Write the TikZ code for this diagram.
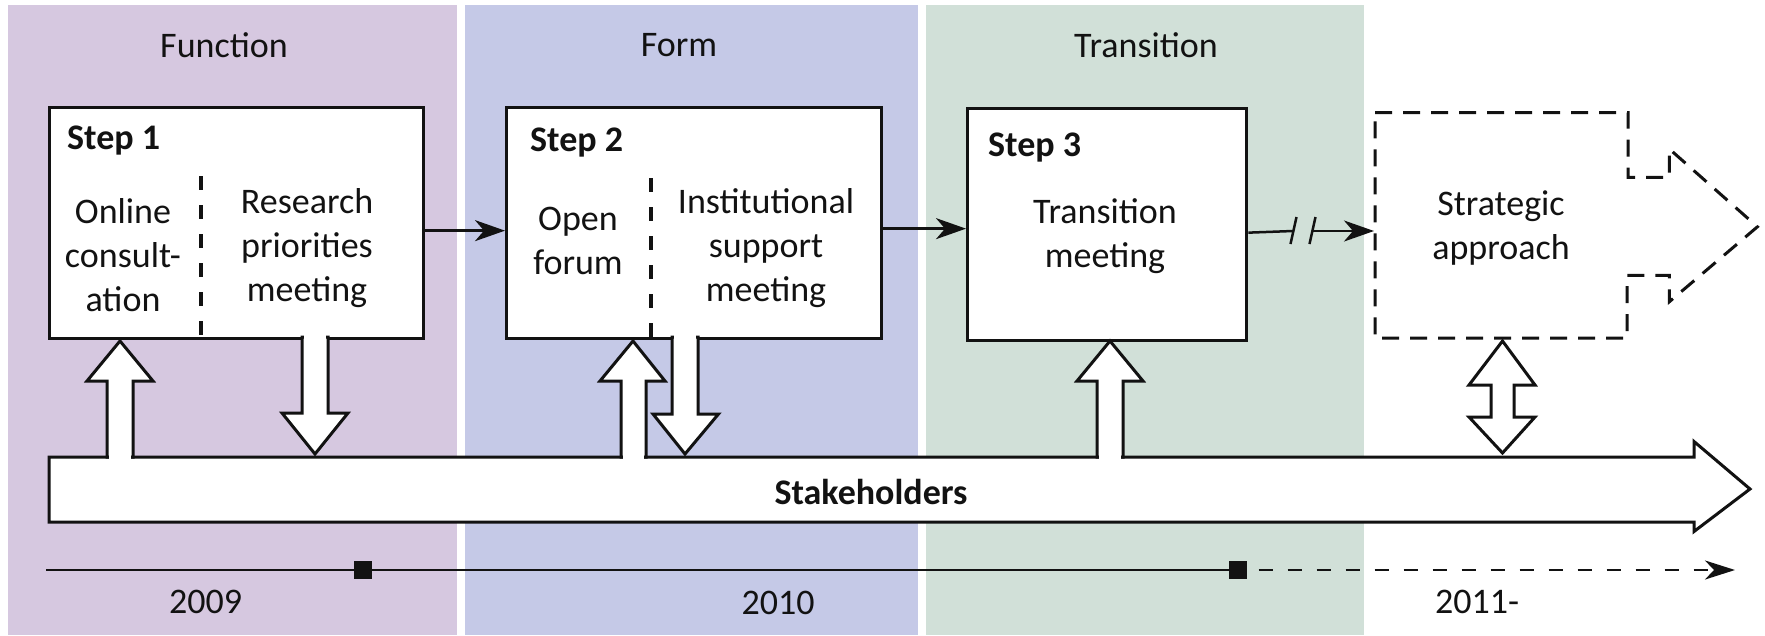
\documentclass[tikz,border=0pt]{standalone}
\usepackage{fontspec}
\setmainfont{Carlito}
\usetikzlibrary{arrows.meta}
\definecolor{bandpurple}{RGB}{214,200,224}
\definecolor{bandblue}{RGB}{197,201,231}
\definecolor{bandgreen}{RGB}{209,224,216}
\definecolor{inkc}{RGB}{18,18,18}
\begin{document}
\begin{tikzpicture}[x=1pt,y=-1pt,
  font=\fontsize{36}{44}\selectfont,
  lbl/.style={text=inkc, align=center, inner sep=0pt},
  steplbl/.style={text=inkc, inner sep=0pt, anchor=base west, font=\fontsize{36}{44}\selectfont\bfseries},
  stepbox/.style={draw=inkc, fill=white, line width=3.3pt, anchor=north west, inner sep=0pt},
  divider/.style={draw=inkc, line width=3.6pt, dash pattern=on 14pt off 15pt},
  conn/.style={draw=inkc, line width=2.5pt, -{Stealth[length=30pt,width=21pt,inset=9pt]}},
  plainline/.style={draw=inkc, line width=2.5pt},
  blk/.style={draw=inkc, fill=white, line width=3pt, line join=miter},
  tl/.style={draw=inkc, line width=2.2pt},
  tlsq/.style={fill=inkc, draw=none, minimum width=18pt, minimum height=18pt, inner sep=0pt},
  dashshape/.style={draw=inkc, line width=3pt, dash pattern=on 17pt off 11pt, line join=miter}
]
\useasboundingbox (0,0) rectangle (1765,635);
\fill[white] (0,0) rectangle (1765,635);
% bands
\fill[bandpurple] (8,5) rectangle (457,635);
\fill[bandblue] (465,5) rectangle (918,635);
\fill[bandgreen] (926,5) rectangle (1364,635);
\node[lbl] (hfun) at (224,45) {Function};
\node[lbl] (hform) at (679,45) {Form};
\node[lbl] (htrans) at (1146,45) {Transition};

% stakeholders arrow
\filldraw[blk] (49,457) -- (1694,457) -- (1694,441.5) -- (1750,489) -- (1694,531.5) -- (1694,522) -- (49,522) -- cycle;
\node[lbl, font=\fontsize{36}{44}\selectfont\bfseries] (stk) at (871,492) {Stakeholders};

% step boxes
\node[stepbox, minimum width=374pt, minimum height=231pt] (s1) at (48,106) {};
\node[stepbox, minimum width=375pt, minimum height=231pt] (s2) at (505,106) {};
\node[stepbox, minimum width=279pt, minimum height=232pt] (s3) at (966,107) {};

\node[steplbl] (s1l) at (67,149) {Step 1};
\node[steplbl] (s2l) at (530,151) {Step 2};
\node[steplbl] (s3l) at (988,156) {Step 3};

\draw[divider] (201,176) -- (201,337);
\draw[divider] (651,178) -- (651,337);

\node[lbl] (oc) at (123,255) {Online\\consult-\\ation};
\node[lbl] (rp) at (307,248) {Research\\priorities\\meeting};
\node[lbl] (of) at (578,241) {Open\\forum};
\node[lbl] (is) at (766,248) {Institutional\\support\\meeting};
\node[lbl] (tm) at (1105,236) {Transition\\meeting};

% strategic approach (dashed)
\draw[dashshape] (1375,112.6) -- (1628,112.6) -- (1628,177.4) -- (1669.4,177.4) -- (1669.4,149)
  -- (1757.4,226.8) -- (1669.4,301.7) -- (1669.4,275.4) -- (1627,275.4) -- (1627,338.2)
  -- (1375,338.2) -- cycle;
\node[lbl] (sa) at (1501,228) {Strategic\\approach};
\coordinate (saw) at (1374,231);

% connectors
\draw[conn] ([yshift=-7.5pt]s1.east) -- ([yshift=-7.5pt]s1.east -| s2.west);
\draw[conn] ([yshift=-5.5pt]s2.east) -- ([yshift=-5.5pt]s2.east -| s3.west);
\coordinate (brk1) at (1293,231);
\coordinate (brk2) at (1312.5,231);
\draw[plainline] ([yshift=-8pt]s3.east) -- (brk1);
\draw[plainline] (1296.5,217) -- (1290.5,244);
\draw[plainline] (1315.5,217) -- (1309.5,244);
\draw[conn] (brk2) -- (saw);

% block arrows
% up arrow 1
\filldraw[blk] (120,341) -- (153,381) -- (133,381) -- (133,457) -- (107,457) -- (107,381) -- (87,381) -- cycle;
\fill[white] (108.6,451) rectangle (131.4,461);
% down arrow 1
\filldraw[blk] (302,337) -- (328,337) -- (328,413) -- (348,413) -- (315,454) -- (282,413) -- (302,413) -- cycle;
\fill[white] (303.6,333) rectangle (326.4,341);
% up arrow 2
\filldraw[blk] (633,341) -- (665,381) -- (646,381) -- (646,457) -- (621,457) -- (621,381) -- (600,381) -- cycle;
\fill[white] (622.6,451) rectangle (644.4,461);
% down arrow 2
\filldraw[blk] (672,337) -- (698,337) -- (698,414) -- (718.5,414) -- (685,454) -- (653,414) -- (672,414) -- cycle;
\fill[white] (673.6,333) rectangle (696.4,341);
% up arrow 3
\filldraw[blk] (1110,341) -- (1143,381) -- (1123,381) -- (1123,457) -- (1097,457) -- (1097,381) -- (1077,381) -- cycle;
\fill[white] (1098.6,451) rectangle (1121.4,461);
% double arrow
\filldraw[blk] (1502.5,341) -- (1535,385) -- (1514,385) -- (1514,417) -- (1535,417) -- (1502.5,453)
  -- (1469,417) -- (1491,417) -- (1491,385) -- (1469,385) -- cycle;

% timeline
\node[tlsq] (q1) at (363,570) {};
\node[tlsq] (q2) at (1238.3,570) {};
\coordinate (tl0) at (46,570);
\coordinate (tlend) at (1735,570);
\draw[tl] (tl0) -- (q1.west);
\draw[tl] (q1.east) -- (q2.west);
\draw[tl, line width=2.8pt, dash pattern=on 14pt off 15pt, -{Stealth[length=30pt,width=19pt,inset=9pt]}] ([xshift=11pt]q2.east) -- (tlend);
\node[lbl] (y1) at (205.5,601.5) {2009};
\node[lbl] (y2) at (778,603) {2010};
\node[lbl] (y3) at (1477,601.5) {2011-};
\end{tikzpicture}
\end{document}
